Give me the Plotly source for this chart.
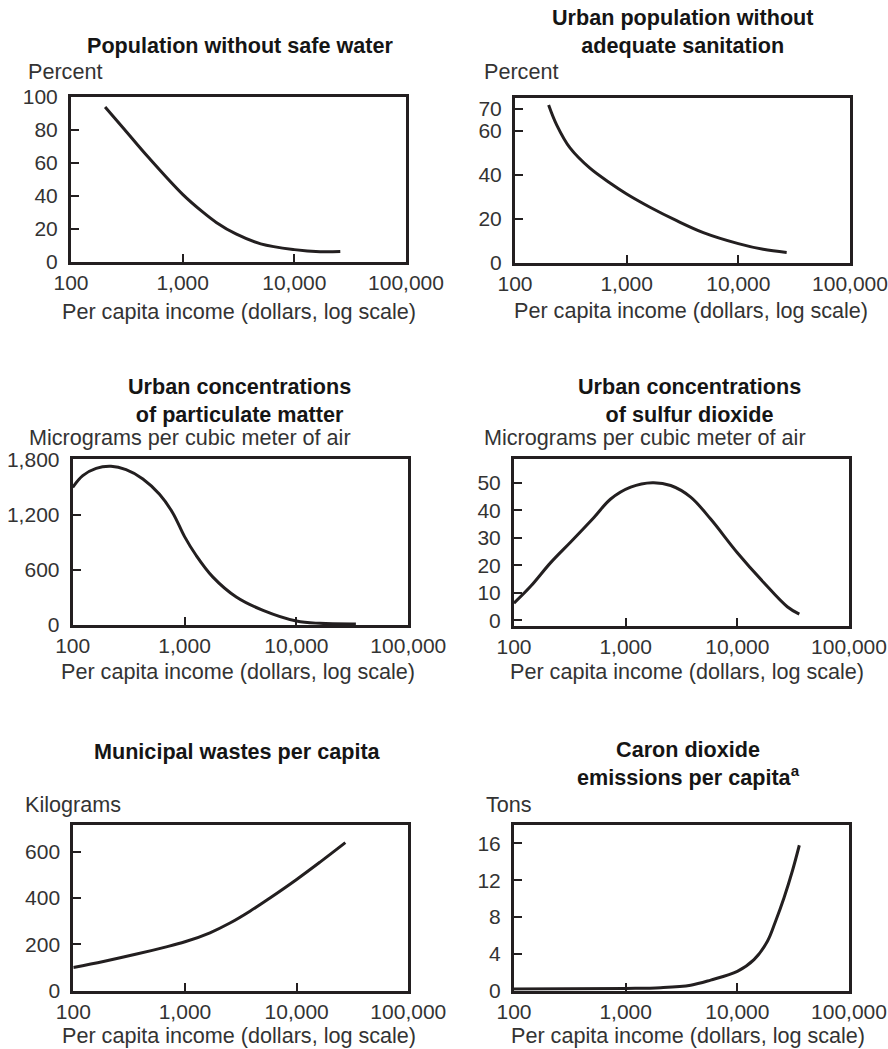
import plotly.graph_objects as go

W, H = 888, 1049

# ---- data: per capita income (dollars) vs. indicator level ----
water_income = [202, 300, 500, 1000, 1500, 2000, 3000, 5000, 10000, 17000, 25800]
water_pct = [94, 80.5, 63, 41, 30.5, 24, 17, 11, 7.5, 6.2, 6.3]

sanit_income = [200, 236, 311, 469, 709, 1000, 1618, 2805, 4860, 10000, 16700, 27100]
sanit_pct = [71.7, 62.7, 52.2, 43, 36.3, 31.3, 25.3, 19.2, 13.8, 8.8, 6.2, 4.8]

pm_income = [100, 123, 162, 220, 300, 424, 597, 787, 1000, 1271, 1794, 2900,
             5030, 10000, 16200, 34000]
pm_ugm3 = [1496, 1623, 1702, 1724, 1688, 1587, 1420, 1215, 960, 755, 520, 304,
           159, 43, 18, 12]

so2_income = [100, 141, 213, 322, 520, 734, 1109, 1733, 2529, 3820, 5770, 10000,
              17300, 28000, 35900]
so2_ugm3 = [6.3, 12.4, 21.0, 28.5, 37.4, 44.1, 48.4, 50.0, 49.0, 44.8, 36.8, 24.6,
            13.7, 5.0, 2.3]

waste_income = [100, 186, 369, 640, 1000, 1675, 2529, 3820, 5770, 10000, 16200, 27300]
waste_kg = [100, 126, 158, 186, 211, 250, 292, 343, 400, 480, 555, 639]

co2_income = [100, 1000, 2057, 3820, 5770, 10000, 14100, 18600, 22000, 26200, 31100, 35900]
co2_tons = [0.18, 0.25, 0.33, 0.6, 1.15, 2.1, 3.37, 5.37, 7.55, 10.1, 13.0, 15.8]

income_ticks = [100, 1000, 10000, 100000]
income_labels = ["100", "1,000", "10,000", "100,000"]

titles = [
    "Population without safe water",
    "Urban population without<br>adequate sanitation",
    "Urban concentrations<br>of particulate matter",
    "Urban concentrations<br>of sulfur dioxide",
    "Municipal wastes per capita",
    "Caron dioxide<br>emissions per capita<sup>a</sup>",
]
units = [
    "Percent", "Percent",
    "Micrograms per cubic meter of air", "Micrograms per cubic meter of air",
    "Kilograms", "Tons",
]
x_title = "Per capita income (dollars, log scale)"

# ---- panel geometry (pixels from the top-left of the page) ----
panels = [
    dict(x=water_income, y=water_pct, bx=(71, 406), by=(97, 262),
         yr=[0, 100], yt=[0, 20, 40, 60, 80, 100],
         title_xy=(240, 45), unit_xy=(26, 72), xt_xy=(239, 311.7)),
    dict(x=sanit_income, y=sanit_pct, bx=(515, 850), by=(97.7, 263),
         yr=[0, 75], yt=[0, 20, 40, 60, 70],
         title_xy=(682.3, 31.5), unit_xy=(481.7, 72), xt_xy=(690.7, 310)),
    dict(x=pm_income, y=pm_ugm3, bx=(72.7, 408.3), by=(459.3, 625),
         yr=[0, 1800], yt=[0, 600, 1200, 1800],
         title_xy=(239, 400.8), unit_xy=(26.7, 437), xt_xy=(238.3, 671.7)),
    dict(x=so2_income, y=so2_ugm3, bx=(514, 849), by=(459.3, 626),
         yr=[-2, 58.5], yt=[0, 10, 20, 30, 40, 50],
         title_xy=(689.8, 400.8), unit_xy=(481.7, 437), xt_xy=(686.5, 671.7)),
    dict(x=waste_income, y=waste_kg, bx=(73.3, 408.3), by=(825, 990.7),
         yr=[0, 715], yt=[0, 200, 400, 600],
         title_xy=(237.5, 751.3), unit_xy=(22.7, 804), xt_xy=(239.2, 1035.7)),
    dict(x=co2_income, y=co2_tons, bx=(514, 849), by=(825, 990.7),
         yr=[0, 18], yt=[0, 4, 8, 12, 16],
         title_xy=(688.5, 763.5), unit_xy=(484, 804), xt_xy=(687.7, 1035.7)),
]

INK = "#231f20"
TEXT = "#333333"
FONT = "Liberation Sans, Arial, sans-serif"
FS_TICK = 21
FS_TEXT = 21.6


def px_x(v):
    return v / W


def px_y(v):
    return 1 - v / H


fig = go.Figure()
layout = dict(
    width=W, height=H,
    margin=dict(l=0, r=0, t=0, b=0, autoexpand=False),
    paper_bgcolor="white", plot_bgcolor="white",
    showlegend=False,
    font=dict(family=FONT, size=FS_TICK, color=TEXT),
)
annotations = []

for i, p in enumerate(panels, start=1):
    sfx = "" if i == 1 else str(i)
    fig.add_trace(go.Scatter(
        x=p["x"], y=p["y"], mode="lines",
        line=dict(color=INK, width=3, shape="spline", smoothing=1.0),
        xaxis="x" + sfx, yaxis="y" + sfx, hoverinfo="skip",
    ))
    common = dict(
        showline=True, mirror=True, linewidth=3, linecolor=INK,
        ticks="inside", ticklen=8, tickwidth=2, tickcolor=INK,
        showgrid=False, zeroline=False, automargin=False,
        tickfont=dict(family=FONT, size=FS_TICK, color=TEXT),
    )
    layout["xaxis" + sfx] = dict(
        common, type="log", range=[2, 5],
        domain=[px_x(p["bx"][0]), px_x(p["bx"][1])],
        anchor="y" + sfx,
        tickvals=income_ticks, ticktext=income_labels,
    )
    layout["yaxis" + sfx] = dict(
        common, range=p["yr"],
        domain=[px_y(p["by"][1]), px_y(p["by"][0])],
        anchor="x" + sfx,
        tickvals=p["yt"], tickformat=",",
        ticklabelstandoff=6,
    )
    tx, ty = p["title_xy"]
    annotations.append(dict(
        text="<b>" + titles[i - 1] + "</b>", x=px_x(tx), y=px_y(ty),
        xref="paper", yref="paper", xanchor="center", yanchor="middle",
        showarrow=False, font=dict(family=FONT, size=FS_TEXT, color="#151515"),
    ))
    ux, uy = p["unit_xy"]
    annotations.append(dict(
        text=units[i - 1], x=px_x(ux), y=px_y(uy),
        xref="paper", yref="paper", xanchor="left", yanchor="middle",
        showarrow=False, font=dict(family=FONT, size=FS_TEXT, color=TEXT),
    ))
    ax_, ay_ = p["xt_xy"]
    annotations.append(dict(
        text=x_title, x=px_x(ax_), y=px_y(ay_),
        xref="paper", yref="paper", xanchor="center", yanchor="middle",
        showarrow=False, font=dict(family=FONT, size=FS_TEXT, color=TEXT),
    ))

layout["annotations"] = annotations
fig.update_layout(**layout)
fig.write_html("out.html")
